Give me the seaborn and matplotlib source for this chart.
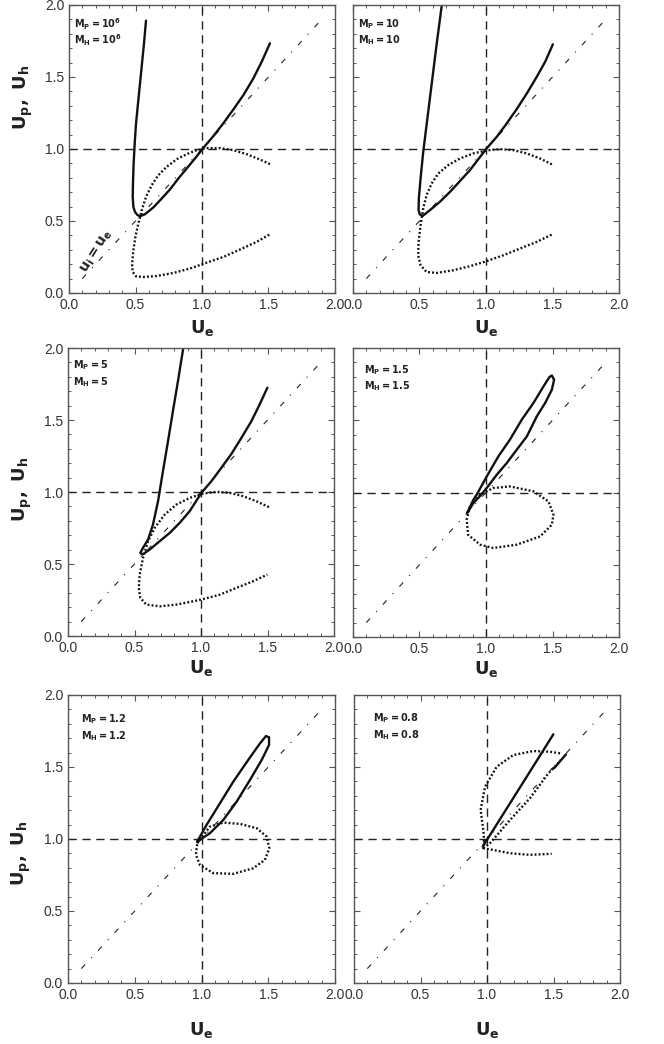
import numpy as np
import pandas as pd
import matplotlib
matplotlib.use('Agg')
import matplotlib.pyplot as plt
import seaborn as sns

# values: (u_e, u) pairs for each panel

# M_P = M_H = 10^6
p1_solid_u = [0.579, 0.564, 0.549, 0.534, 0.519, 0.504, 0.494, 0.486, 0.481, 0.479, 0.484, 0.496, 0.514, 0.534,
              0.571, 0.634, 0.697, 0.759, 0.822, 0.885, 0.947, 1.01, 1.085, 1.160, 1.236, 1.311, 1.386, 1.449, 1.511]
p1_solid_v = [1.891, 1.734, 1.595, 1.456, 1.317, 1.178, 1.039, 0.900, 0.761, 0.668, 0.598, 0.563, 0.542, 0.533,
              0.547, 0.594, 0.656, 0.719, 0.795, 0.865, 0.934, 1.008, 1.089, 1.178, 1.275, 1.374, 1.490, 1.606, 1.734]
p1_dot_u = [1.511, 1.436, 1.336, 1.236, 1.135, 1.035, 0.960, 0.885, 0.810, 0.734, 0.671, 0.622, 0.579, 0.547,
            0.521, 0.499, 0.484, 0.474, 0.479, 0.504, 0.559, 0.659, 0.784, 0.910, 1.035, 1.160, 1.286, 1.411, 1.511]
p1_dot_v = [0.895, 0.927, 0.964, 0.992, 1.006, 1.006, 0.992, 0.964, 0.929, 0.876, 0.818, 0.749, 0.668, 0.575,
            0.482, 0.389, 0.297, 0.204, 0.146, 0.116, 0.111, 0.118, 0.139, 0.170, 0.211, 0.250, 0.302, 0.355, 0.408]

# M_P = M_H = 10
p2_solid_u = [0.666, 0.648, 0.628, 0.603, 0.578, 0.553, 0.528, 0.508, 0.495, 0.493, 0.503, 0.523,
              0.578, 0.653, 0.729, 0.804, 0.879, 0.942, 1.0, 1.081, 1.156, 1.231, 1.307, 1.382, 1.445, 1.503]
p2_solid_v = [1.988, 1.861, 1.722, 1.536, 1.351, 1.166, 0.980, 0.795, 0.656, 0.575, 0.545, 0.535,
              0.575, 0.633, 0.702, 0.777, 0.853, 0.929, 0.999, 1.085, 1.178, 1.277, 1.386, 1.502, 1.606, 1.727]
p2_dot_u = [1.495, 1.407, 1.307, 1.206, 1.106, 1.005, 0.904, 0.804, 0.716, 0.641, 0.591, 0.553, 0.528,
            0.508, 0.493, 0.490, 0.508, 0.553, 0.628, 0.754, 0.879, 1.0, 1.130, 1.256, 1.382, 1.495]
p2_dot_v = [0.893, 0.934, 0.969, 0.992, 0.999, 0.990, 0.969, 0.934, 0.888, 0.830, 0.760, 0.679, 0.587,
            0.471, 0.355, 0.262, 0.193, 0.146, 0.139, 0.158, 0.186, 0.220, 0.262, 0.309, 0.355, 0.406]

# M_P = M_H = 5
p3_solid_u = [0.865, 0.827, 0.789, 0.752, 0.714, 0.677, 0.639, 0.602, 0.564, 0.544, 0.559,
              0.614, 0.689, 0.765, 0.840, 0.915, 1.003, 1.078, 1.153, 1.229, 1.304, 1.379, 1.441, 1.499]
p3_solid_v = [1.990, 1.771, 1.562, 1.353, 1.145, 0.936, 0.774, 0.670, 0.612, 0.577, 0.565,
              0.600, 0.658, 0.716, 0.786, 0.867, 0.994, 1.075, 1.168, 1.265, 1.376, 1.492, 1.608, 1.724]
p3_dot_u = [1.511, 1.416, 1.316, 1.216, 1.116, 1.015, 0.915, 0.815, 0.727, 0.652, 0.602, 0.564, 0.539,
            0.532, 0.544, 0.589, 0.689, 0.815, 1.003, 1.141, 1.266, 1.391, 1.499]
p3_dot_v = [0.895, 0.936, 0.971, 0.994, 1.001, 0.989, 0.959, 0.913, 0.843, 0.751, 0.658, 0.542, 0.426,
            0.334, 0.264, 0.218, 0.206, 0.218, 0.253, 0.287, 0.334, 0.380, 0.426]

# M_P = M_H = 1.5
p4_solid_u = [0.861, 0.905, 0.930, 1.005, 1.093, 1.18, 1.269, 1.357, 1.432, 1.477, 1.495, 1.512,
              1.495, 1.445, 1.382, 1.307, 1.231, 1.156, 1.081, 1.005, 0.955, 0.905, 0.861]
p4_solid_v = [0.862, 0.950, 0.985, 1.110, 1.250, 1.366, 1.504, 1.620, 1.734, 1.799, 1.810, 1.780,
              1.711, 1.620, 1.527, 1.388, 1.296, 1.204, 1.123, 1.031, 0.975, 0.927, 0.862]
p4_dot_u = [0.88, 0.855, 0.865, 0.955, 1.055, 1.231, 1.407, 1.495, 1.507, 1.47, 1.357, 1.18, 1.055, 0.955, 0.88]
p4_dot_v = [0.904, 0.812, 0.708, 0.639, 0.616, 0.639, 0.696, 0.777, 0.846, 0.938, 1.008, 1.042, 1.031, 0.985, 0.904]

# M_P = M_H = 1.2
p5_solid_u = [0.968, 1.038, 1.138, 1.238, 1.350, 1.438, 1.483, 1.506, 1.506,
              1.451, 1.363, 1.263, 1.163, 1.063, 0.968]
p5_solid_v = [0.982, 1.098, 1.248, 1.398, 1.549, 1.664, 1.715, 1.706, 1.653,
              1.549, 1.410, 1.259, 1.132, 1.040, 0.982]
p5_dot_u = [0.968, 1.063, 1.163, 1.288, 1.413, 1.488, 1.508, 1.475, 1.388, 1.238, 1.088, 0.988, 0.958, 0.968]
p5_dot_v = [0.971, 1.086, 1.114, 1.105, 1.075, 1.017, 0.936, 0.855, 0.797, 0.758, 0.763, 0.820, 0.890, 0.971]

# M_P = M_H = 0.8
p6_solid_u = [0.968, 1.499]
p6_solid_v = [0.947, 1.727]
p6_seg_u = [1.504, 1.594]
p6_seg_v = [1.491, 1.588]
p6_inner_u = [0.972, 1.023, 1.173, 1.323, 1.461, 1.55]
p6_inner_v = [0.936, 0.971, 1.132, 1.283, 1.456, 1.54]
p6_arc_u = [1.549, 1.474, 1.348, 1.198, 1.073, 0.985, 0.952, 0.972, 0.978, 0.972, 1.047, 1.173, 1.323, 1.486]
p6_arc_v = [1.595, 1.606, 1.611, 1.583, 1.502, 1.363, 1.202, 1.063, 0.999, 0.936, 0.924, 0.901, 0.890, 0.897]

mach_labels = ['10^6', '10', '5', '1.5', '1.2', '0.8']
ticks = [0.0, 0.5, 1.0, 1.5, 2.0]
tick_labels = ['0.0', '0.5', '1.0', '1.5', '2.0']

panels = [
    [(p1_solid_u, p1_solid_v, 'solid'), (p1_dot_u, p1_dot_v, 'dot')],
    [(p2_solid_u, p2_solid_v, 'solid'), (p2_dot_u, p2_dot_v, 'dot')],
    [(p3_solid_u, p3_solid_v, 'solid'), (p3_dot_u, p3_dot_v, 'dot')],
    [(p4_solid_u, p4_solid_v, 'solid'), (p4_dot_u, p4_dot_v, 'dot')],
    [(p5_solid_u, p5_solid_v, 'solid'), (p5_dot_u, p5_dot_v, 'dot')],
    [(p6_solid_u, p6_solid_v, 'solid'), (p6_seg_u, p6_seg_v, 'solid'),
     (p6_inner_u, p6_inner_v, 'dot'), (p6_arc_u, p6_arc_v, 'dot')],
]

sns.set_style('ticks')
plt.rcParams['font.family'] = ['Liberation Sans', 'DejaVu Sans']

W, H = 664, 1044
fig = plt.figure(figsize=(W / 100, H / 100), dpi=100)

# axes boxes in pixels (left, top, right, bottom)
boxes = [(69, 5, 335, 293), (353, 5, 619, 293),
         (68, 348, 334, 636), (353, 348, 619, 637),
         (68, 695, 335, 983), (354, 695, 620, 983)]
xlab_y = [-0.122, -0.122, -0.111, -0.111, -0.163, -0.163]
ylab_y = [0.68, None, 0.51, None, 0.45, None]
txt_x = [0.02, 0.02, 0.02, 0.04, 0.05, 0.07]
txt_y = [0.935, 0.935, 0.94, 0.925, 0.915, 0.92]

diag = [0.1, 1.9]

for i, (l, t, r, b) in enumerate(boxes):
    ax = fig.add_axes([l / W, 1 - b / H, (r - l) / W, (b - t) / H])
    ax.axhline(1.0, color='#222', lw=1.0, ls=(0, (6, 4)))
    ax.axvline(1.0, color='#222', lw=1.0, ls=(0, (6, 4)))
    sns.lineplot(x=diag, y=diag, ax=ax, color='#222', lw=0.8,
                 linestyle=(0, (5, 8, 1, 8)), estimator=None)
    for xs, ys, kind in panels[i]:
        df = pd.DataFrame({'u': xs, 'v': ys})
        if kind == 'solid':
            sns.lineplot(data=df, x='u', y='v', ax=ax, sort=False, estimator=None,
                         color='#111', lw=1.7)
        else:
            sns.lineplot(data=df, x='u', y='v', ax=ax, sort=False, estimator=None,
                         color='#111', lw=1.7, linestyle=(0, (0.8, 0.9)))
    ax.set_xlim(0, 2)
    ax.set_ylim(0, 2)
    ax.set_xticks(ticks)
    ax.set_xticklabels(tick_labels)
    ax.set_yticks(ticks)
    ax.set_xticks(np.arange(0, 2.01, 0.1), minor=True)
    ax.set_yticks(np.arange(0, 2.01, 0.1), minor=True)
    ax.tick_params(which='both', direction='in', top=True, right=True,
                   colors='#555', labelcolor='#333', labelsize=10)
    ax.tick_params(which='major', length=4, width=0.8)
    ax.tick_params(which='minor', length=2.5, width=0.7)
    for s in ax.spines.values():
        s.set_color('#555')
        s.set_linewidth(1.0)
    if i % 2 == 0:
        ax.set_yticklabels(tick_labels)
        ax.set_ylabel(r'$\mathbf{U_p,\ U_h}$', fontsize=13, color='#222')
        ax.yaxis.set_label_coords(-0.173, ylab_y[i])
        ax.yaxis.label.set_va('center')
    else:
        ax.set_yticklabels([])
        ax.set_ylabel('')
    ax.set_xlabel(r'$\mathbf{U_e}$', fontsize=13, color='#222')
    ax.xaxis.set_label_coords(0.5, xlab_y[i])
    ax.xaxis.label.set_va('center')
    m = mach_labels[i]
    ax.text(txt_x[i], txt_y[i], r'$\mathbf{M_P=%s}$' % m, transform=ax.transAxes,
            fontsize=7, va='center', ha='left', color='#222')
    ax.text(txt_x[i], txt_y[i] - 0.058, r'$\mathbf{M_H=%s}$' % m, transform=ax.transAxes,
            fontsize=7, va='center', ha='left', color='#222')
    if i == 0:
        ax.text(0.21, 0.29, r'$\mathbf{u_i = u_e}$', fontsize=10, rotation=58,
                ha='center', va='center', color='#222')

fig.savefig('out.png', dpi=100)
